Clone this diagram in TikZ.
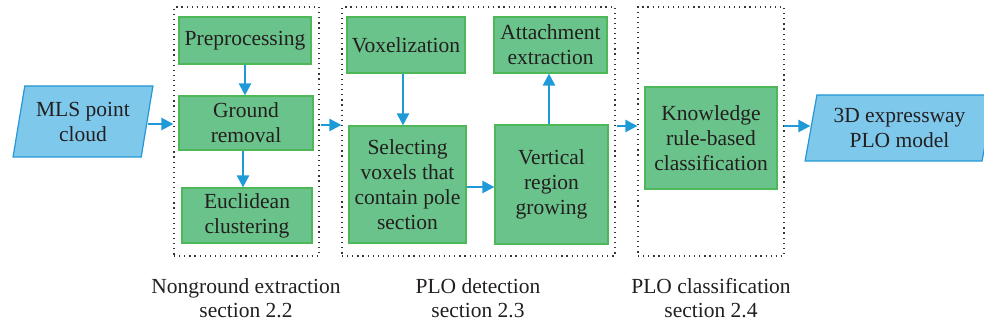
\documentclass[tikz,border=0pt]{standalone}
\usepackage{fontspec}
\setmainfont{Liberation Serif}
\usetikzlibrary{shapes.geometric,arrows.meta,calc}
\definecolor{boxfill}{RGB}{106,195,138}
\definecolor{boxline}{RGB}{78,184,88}
\definecolor{iofill}{RGB}{126,200,235}
\definecolor{ioline}{RGB}{38,150,212}
\definecolor{flow}{RGB}{30,154,216}
\definecolor{ink}{RGB}{35,31,32}
\tikzset{
  stage/.style={draw=boxline, fill=boxfill, line width=1.2pt, inner sep=0pt,
    align=center, text=ink, font=\fontsize{21.5}{25}\selectfont},
  iobox/.style={trapezium, trapezium stretches=true, trapezium left angle=76.5,
    trapezium right angle=103.5, draw=ioline, fill=iofill, line width=1.2pt,
    inner sep=0pt, align=center, text=ink, font=\fontsize{21.5}{25}\selectfont},
  group/.style={draw=ink!90, line width=1.2pt, dash pattern=on 1.2pt off 3.9pt,
    inner sep=0pt},
  caption/.style={align=center, text=ink, font=\fontsize{21.5}{24}\selectfont},
  flowarrow/.style={draw=flow, line width=2.4pt,
    -{Triangle[length=12pt,width=12pt]}},
}
\begin{document}
\begin{tikzpicture}[x=1pt,y=-1pt]
\useasboundingbox (0,0) rectangle (984,328);

% stage groups
\node[group, minimum width=145pt, minimum height=249pt] (g1) at (246.5,131.5) {};
\node[group, minimum width=273pt, minimum height=249pt] (g2) at (478.5,131.5) {};
\node[group, minimum width=146pt, minimum height=249pt] (g3) at (711,131.5) {};

% input and output
\node[iobox, minimum width=140pt, minimum height=71pt] (mls) at (83,121.5) {MLS point\\cloud};
\node[iobox, minimum width=189pt, minimum height=66pt] (out) at (899.5,128) {3D expressway\\PLO model};

% nonground extraction
\node[stage, minimum width=132pt, minimum height=47pt] (pre) at (245,40.5) {Preprocessing};
\node[stage, minimum width=134pt, minimum height=54pt] (gr) at (246,123) {Ground\\removal};
\node[stage, minimum width=130pt, minimum height=55pt] (euc) at (247,215.5) {Euclidean\\clustering};

% PLO detection
\node[stage, minimum width=118pt, minimum height=56pt] (vox) at (406,45) {Voxelization};
\node[stage, minimum width=113pt, minimum height=56pt] (att) at (550.5,45) {Attachment\\extraction};
\node[stage, minimum width=117pt, minimum height=117pt] (sel) at (407.5,184.5) {Selecting\\voxels that\\contain pole\\section};
\node[stage, minimum width=113pt, minimum height=119pt] (ver) at (551.5,184.5) {Vertical\\region\\growing};

% PLO classification
\node[stage, minimum width=132pt, minimum height=102pt] (kno) at (711,138) {Knowledge\\rule-based\\classification};

% captions
\node[caption] (c1) at (246,298) {Nonground extraction\\section 2.2};
\node[caption] (c2) at (478,298) {PLO detection\\section 2.3};
\node[caption] (c3) at (711,298) {PLO classification\\section 2.4};

% flow
\draw[flowarrow] ([yshift=-2.5pt]mls.east) -- ([yshift=-2.5pt]g1.west |- mls.east);
\draw[flowarrow] (pre.south) -- (pre.south |- gr.north);
\draw[flowarrow] ([xshift=-3pt]gr.south) -- ([xshift=-3pt]gr.south |- euc.north);
\draw[flowarrow] ([xshift=1pt]g1.east |- gr.east) ++(0,-2pt) coordinate (a1) (a1) -- (a1 -| g2.west);
\draw[flowarrow] ([xshift=-3pt]vox.south) -- ([xshift=-3pt]vox.south |- sel.north);
\draw[flowarrow] ([yshift=-2.5pt]sel.east) -- ([yshift=-2.5pt]sel.east -| ver.west);
\draw[flowarrow] ([xshift=-2.5pt]ver.north) -- ([xshift=-2.5pt]ver.north |- att.south);
\draw[flowarrow] ([xshift=1pt,yshift=5.5pt]g2.east) -- ([yshift=5.5pt]g3.west);
\draw[flowarrow] ([xshift=-1pt,yshift=2pt]g3.east |- out.west) -- ([yshift=2pt]out.west);
\end{tikzpicture}
\end{document}
